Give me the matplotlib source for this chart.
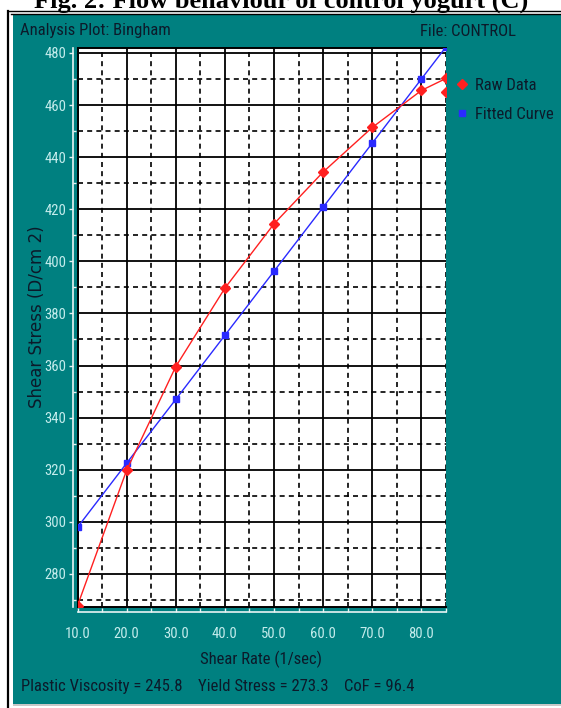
import numpy as np
import matplotlib
matplotlib.use("Agg")
import matplotlib.pyplot as plt
from matplotlib.lines import Line2D
from matplotlib.patches import Rectangle
from matplotlib import font_manager

# values
shear_rate = [10, 20, 30, 40, 50, 60, 70, 80, 85]
raw_stress = [267.8, 319.8, 359.6, 389.7, 414.4, 434.3, 451.4, 465.6, 470.2]
extra_rate = [85]
extra_stress = [465.0]
fit_rate = [10, 20, 30, 40, 50, 60, 70, 80, 85]
fit_stress = [297.9, 322.5, 347.0, 371.6, 396.2, 420.8, 445.4, 470.0, 482.3]

xmajor = [10, 20, 30, 40, 50, 60, 70, 80]
xminor = [15, 25, 35, 45, 55, 65, 75, 85]
ymajor = [280, 300, 320, 340, 360, 380, 400, 420, 440, 460, 480]
yminor = [270, 290, 310, 330, 350, 370, 390, 410, 430, 450, 470]

title = "Fig. 2: Flow behaviour of control yogurt (C)"
stats_text = "Plastic Viscosity = 245.8    Yield Stress = 273.3    CoF = 96.4"

TEAL = "#008080"
DARK = "#0c1a2a"
PALE = "#c4ecec"

# pick a narrow sans if one is installed
names = {f.name for f in font_manager.fontManager.ttflist}
narrow = [n for n in ["Liberation Sans Narrow", "Arial Narrow", "Roboto Condensed"] if n in names]
NARROW = narrow[:1] + ["Liberation Sans", "DejaVu Sans"]

W, H = 561, 708
fig = plt.figure(figsize=(W / 100, H / 100), dpi=100, facecolor="white")


def fx(px):
    return px / W


def fy(py):
    return 1 - py / H


# panel background and frame
fig.patches.append(Rectangle((fx(12.5), fy(704)), fx(561 - 12.5), (704 - 15) / H,
                             transform=fig.transFigure, facecolor=TEAL, edgecolor="none", zorder=-2))
fig.patches.append(Rectangle((fx(12.5), fy(706)), fx(561 - 12.5), 2 / H,
                             transform=fig.transFigure, facecolor="#c8c8c8", edgecolor="none", zorder=-2))
fig.lines.append(Line2D([fx(8), fx(8)], [fy(11), 0], transform=fig.transFigure, color="black", lw=1.6))
fig.lines.append(Line2D([fx(8), 1], [fy(11), fy(11)], transform=fig.transFigure, color="black", lw=1.0))
fig.lines.append(Line2D([fx(11), 1], [fy(14), fy(14)], transform=fig.transFigure, color="black", lw=1.0))

fig.text(fx(281), fy(8), title, ha="center", va="baseline", fontsize=19,
         fontweight="bold", family=["Liberation Serif", "DejaVu Serif"], color="black")

rect = [fx(77.5), fy(607), fx(446 - 77.5), (607 - 47.7) / H]
ax = fig.add_axes(rect, facecolor="white")
ax.set_xlim(10, 85)
ax.set_ylim(267.3, 482)

for v in xmajor:
    ax.axvline(v, color="black", lw=1.3, zorder=1)
for v in xminor:
    ax.axvline(v, color="black", lw=1.2, ls=(0, (3, 2.5)), zorder=1)
for v in ymajor:
    ax.axhline(v, color="black", lw=1.3, zorder=1)
for v in yminor:
    ax.axhline(v, color="black", lw=1.2, ls=(0, (3, 2.5)), zorder=1)

ax.plot(fit_rate, fit_stress, color="#2a2aff", lw=1.0, marker="s", ms=5, zorder=3)
ax.plot(shear_rate, raw_stress, color="#ff2020", lw=1.0, marker="D", ms=5.5, zorder=4)
ax.plot(extra_rate, extra_stress, color="#ff2020", lw=0, marker="D", ms=5.5, zorder=4)

ax.set_xticks([])
ax.set_yticks([])
for side in ["left", "top", "bottom"]:
    ax.spines[side].set_color("black")
    ax.spines[side].set_linewidth(1.4)
ax.spines["right"].set_visible(False)

# offset pale axes with ticks
ax2 = fig.add_axes(rect, facecolor="none")
ax2.set_xlim(10, 85)
ax2.set_ylim(267.3, 482)
for side in ["top", "right"]:
    ax2.spines[side].set_visible(False)
for side in ["left", "bottom"]:
    ax2.spines[side].set_position(("outward", 3.6))
    ax2.spines[side].set_color("#e8f4f4")
    ax2.spines[side].set_linewidth(1.2)
ax2.set_xticks(xmajor)
ax2.set_xticks(xminor, minor=True)
ax2.set_xticklabels([f"{v:.1f}" for v in xmajor])
ax2.set_yticks(ymajor)
ax2.set_yticks(yminor, minor=True)
ax2.set_yticklabels([str(v) for v in ymajor])
ax2.tick_params(axis="x", which="both", direction="in", length=3, width=1, color="#e8f4f4",
                labelcolor=PALE, labelsize=10.5, pad=11)
ax2.tick_params(axis="y", which="major", direction="out", length=3, width=1, color="#e8f4f4",
                labelcolor=PALE, labelsize=10.5, pad=1.5)
ax2.tick_params(axis="y", which="minor", direction="in", length=2, width=1, color="#e8f4f4")
for lab in ax2.get_xticklabels() + ax2.get_yticklabels():
    lab.set_family(NARROW)

fig.text(fx(20), fy(31), "Analysis Plot: Bingham", ha="left", va="center",
         fontsize=12, family=NARROW, color=DARK)
fig.text(fx(420), fy(31), "File: CONTROL", ha="left", va="center",
         fontsize=12, family=NARROW, color=DARK)
fig.text(fx(261), fy(659), "Shear Rate (1/sec)", ha="center", va="center",
         fontsize=12, family=NARROW, color=DARK)
fig.text(fx(21), fy(687), stats_text, ha="left", va="center",
         fontsize=12, family=NARROW, color=DARK)
fig.text(fx(37), fy(317), "Shear Stress (D/cm 2)", ha="center", va="center", rotation=90,
         fontsize=12, family=["DejaVu Sans"], color=DARK)

handles = [Line2D([], [], color="#ff2020", marker="D", ls="none", ms=5.5),
           Line2D([], [], color="#2a2aff", marker="s", ls="none", ms=5)]
fig.legend(handles, ["Raw Data", "Fitted Curve"], loc="upper left",
           bbox_to_anchor=(fx(455), fy(78)), frameon=False, handlelength=0.8,
           handletextpad=0.4, labelspacing=0.85, borderaxespad=0, borderpad=0,
           prop={"family": NARROW, "size": 12}, labelcolor=DARK)

fig.savefig("out.png", dpi=100, facecolor="white")
